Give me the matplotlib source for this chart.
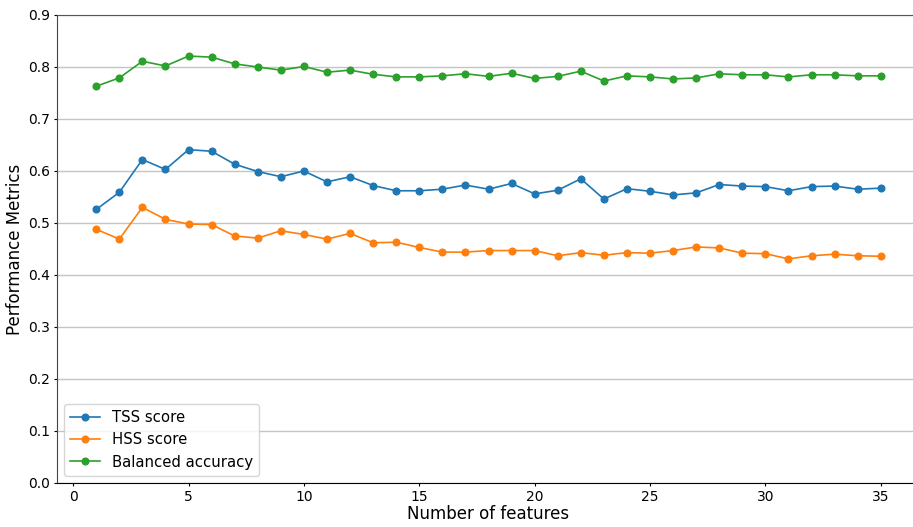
import matplotlib
matplotlib.use("Agg")
import numpy as np
import matplotlib.pyplot as plt

n_features = list(range(1, 36))

tss = [0.526, 0.559, 0.622, 0.603, 0.641, 0.638, 0.613, 0.599, 0.589, 0.600,
       0.579, 0.589, 0.572, 0.562, 0.562, 0.565, 0.573, 0.565, 0.576, 0.556,
       0.563, 0.585, 0.546, 0.566, 0.561, 0.554, 0.558, 0.574, 0.571, 0.570,
       0.562, 0.570, 0.571, 0.565, 0.567]

hss = [0.488, 0.469, 0.530, 0.507, 0.498, 0.497, 0.475, 0.471, 0.485, 0.478,
       0.469, 0.480, 0.462, 0.463, 0.453, 0.444, 0.444, 0.447, 0.447, 0.447,
       0.437, 0.443, 0.438, 0.443, 0.442, 0.447, 0.454, 0.452, 0.442, 0.441,
       0.431, 0.437, 0.440, 0.437, 0.436]

bal_acc = [0.763, 0.779, 0.811, 0.802, 0.821, 0.819, 0.806, 0.800, 0.794, 0.801,
           0.790, 0.794, 0.786, 0.781, 0.781, 0.783, 0.787, 0.782, 0.788, 0.778,
           0.782, 0.792, 0.773, 0.783, 0.781, 0.777, 0.779, 0.787, 0.785, 0.785,
           0.781, 0.785, 0.785, 0.783, 0.783]

fig = plt.figure(figsize=(9.13, 5.27), dpi=100)
ax = fig.add_axes([57 / 913, 44 / 527, 863 / 913, 468 / 527])

ax.plot(n_features, tss, marker="o", markersize=4.8, linewidth=1.2, label="TSS score")
ax.plot(n_features, hss, marker="o", markersize=4.8, linewidth=1.2, label="HSS score")
ax.plot(n_features, bal_acc, marker="o", markersize=4.8, linewidth=1.2, label="Balanced accuracy")

ax.set_xlim(-0.7, 36.7)
ax.set_ylim(0, 0.9)
ax.set_xticks([0, 5, 10, 15, 20, 25, 30, 35])
ax.set_yticks(np.arange(0, 0.91, 0.1))
ax.tick_params(labelsize=10, length=2.5, pad=2.5)
ax.yaxis.grid(True, color="#c4c4c4", linewidth=1.0)
ax.set_axisbelow(True)
ax.spines["top"].set_color("#555555")
ax.spines["left"].set_color("#444444")
ax.spines["right"].set_visible(False)

ax.set_xlabel("Number of features", fontsize=12, labelpad=1)
ax.set_ylabel("Performance Metrics", fontsize=12, labelpad=3)
ax.legend(loc="lower left", fontsize=10.7, handlelength=2.0, borderaxespad=0.5)

fig.savefig("out.png", dpi=100)
